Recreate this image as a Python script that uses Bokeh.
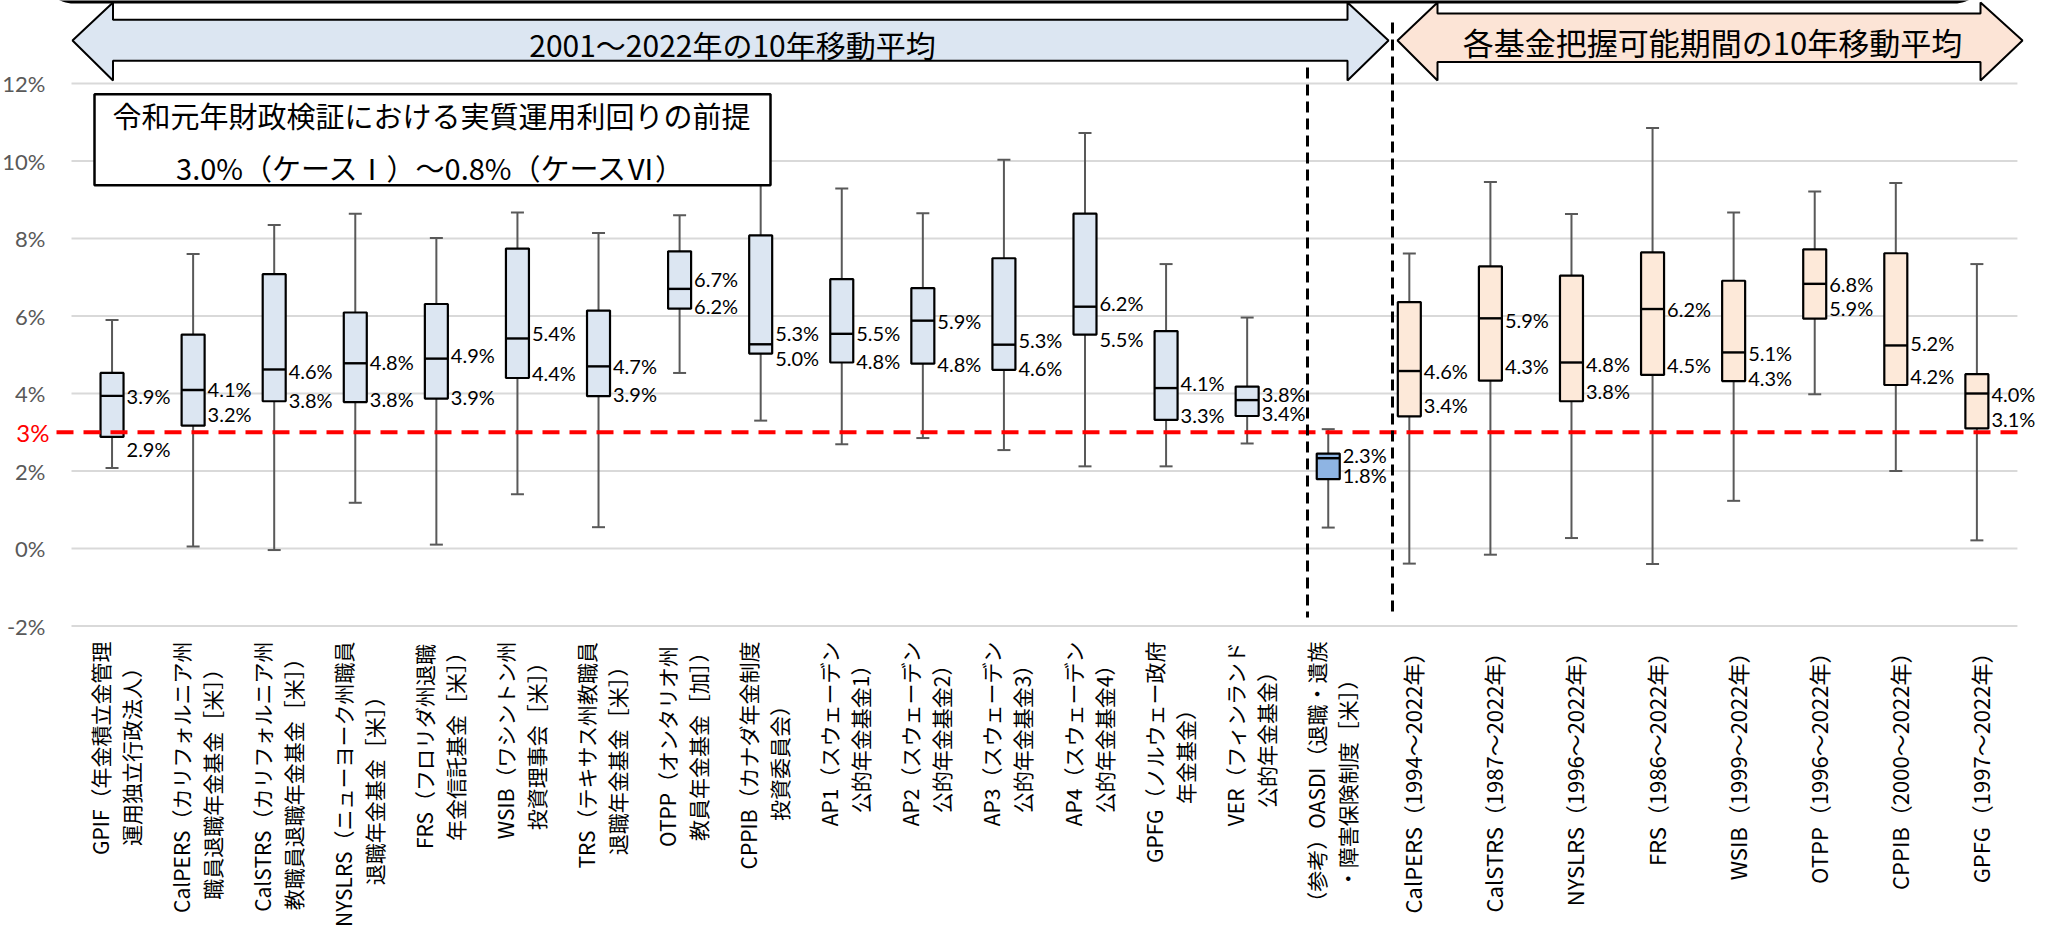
import numpy as np
from bokeh.plotting import figure
from bokeh.models import Range1d
from bokeh.core.properties import value
from bokeh.embed import file_html
from bokeh.resources import INLINE

# ---------------- data ----------------
labels = [
    "GPIF（年金積立金管理\n運用独立行政法人）",
    "CalPERS（カリフォルニア州\n職員退職年金基金［米］）",
    "CalSTRS（カリフォルニア州\n教職員退職年金基金［米］）",
    "NYSLRS（ニューヨーク州職員\n退職年金基金［米］）",
    "FRS（フロリダ州退職\n年金信託基金［米］）",
    "WSIB（ワシントン州\n投資理事会［米］）",
    "TRS（テキサス州教職員\n退職年金基金［米］）",
    "OTPP（オンタリオ州\n教員年金基金［加］）",
    "CPPIB（カナダ年金制度\n投資委員会）",
    "AP1（スウェーデン\n公的年金基金1）",
    "AP2（スウェーデン\n公的年金基金2）",
    "AP3（スウェーデン\n公的年金基金3）",
    "AP4（スウェーデン\n公的年金基金4）",
    "GPFG（ノルウェー政府\n年金基金）",
    "VER（フィンランド\n公的年金基金）",
    "（参考）OASDI（退職・遺族\n・障害保険制度［米］）",
    "CalPERS（1994～2022年）",
    "CalSTRS（1987～2022年）",
    "NYSLRS（1996～2022年）",
    "FRS（1986～2022年）",
    "WSIB（1999～2022年）",
    "OTPP（1996～2022年）",
    "CPPIB（2000～2022年）",
    "GPFG（1997～2022年）",
]
group = ["common"] * 15 + ["reference"] + ["own"] * 8

whisker_max = [5.90, 7.60, 8.35, 8.64, 8.01, 8.67, 8.14, 8.60, 9.43, 9.29, 8.65, 10.03,
               10.72, 7.34, 5.96, 3.08, 7.61, 9.46, 8.63, 10.85, 8.67, 9.21, 9.43, 7.34]
q3 = [4.53, 5.52, 7.08, 6.09, 6.31, 7.74, 6.14, 7.67, 8.08, 6.95, 6.72, 7.49,
      8.64, 5.61, 4.18, 2.45, 6.36, 7.28, 7.04, 7.64, 6.91, 7.72, 7.62, 4.50]
median = [3.94, 4.09, 4.62, 4.78, 4.90, 5.42, 4.70, 6.70, 5.27, 5.54, 5.88, 5.26,
          6.24, 4.14, 3.83, 2.33, 4.58, 5.94, 4.80, 6.18, 5.06, 6.83, 5.24, 4.00]
q1 = [2.88, 3.17, 3.80, 3.78, 3.87, 4.40, 3.93, 6.19, 5.03, 4.80, 4.77, 4.61,
      5.52, 3.32, 3.42, 1.79, 3.41, 4.33, 3.80, 4.48, 4.32, 5.93, 4.22, 3.10]
whisker_min = [2.08, 0.05, -0.04, 1.18, 0.10, 1.40, 0.55, 4.53, 3.30, 2.69, 2.85, 2.54,
               2.12, 2.12, 2.71, 0.54, -0.39, -0.16, 0.27, -0.40, 1.23, 3.98, 2.00, 0.21]

y_ticks = [-2, 0, 2, 4, 6, 8, 10, 12]
y_tick_labels = [f"{t}%" for t in y_ticks]
threshold = 3.0
threshold_label = "3%"
title_common = "2001～2022年の10年移動平均"
title_own = "各基金把握可能期間の10年移動平均"
note_lines = ["令和元年財政検証における実質運用利回りの前提", "3.0%（ケースⅠ）～0.8%（ケースⅥ）"]

# ---------------- style ----------------
fill_by_group = {"common": "#DCE6F2", "reference": "#8EB4E3", "own": "#FDE9D9"}
label_size_by_group = {"common": 21, "reference": 21, "own": 22}
# small pixel nudges for data label placement (positive = down)
med_nudge = [0, -1, 2, -1, -4, -5, 0, -10, -11, -1, 0, -5, -4, -5, -6, -3, 0, 2, 1, 0, 1, 0, -2, 0]
q1_nudge = [12, -12, -1, -3, -2, -5, -2, -3, 4, -2, 0, -2, 4, -5, -3, -4, -11, -15, -10, -10, -3, -11, -9, -9]

W, H = 2037, 926
PAD = 8
X0, CAT = 79.0, 81.08     # pixel of category axis start, pixels per category
Y0, PCT = 556.0, 38.75    # pixel of 0 %, pixels per percentage point


def X(px):
    return (px - X0) / CAT


def Y(py):
    return (Y0 - py) / PCT


p = figure(width=W, height=H, output_backend="svg", toolbar_location=None,
           x_range=Range1d(X(PAD), X(PAD + W)), y_range=Range1d(Y(PAD + H), Y(PAD)),
           x_axis_type=None, y_axis_type=None, min_border=0, outline_line_color=None,
           background_fill_color="white", border_fill_color="white")

n = len(labels)
cats = np.arange(n) + 0.5
bw = 11.5 / CAT
cap = 6.5 / CAT

# gridlines
p.segment(x0=[0] * len(y_ticks), y0=y_ticks, x1=[n] * len(y_ticks), y1=y_ticks,
          line_color="#D9D9D9", line_width=2)

# whiskers
wc = "#595959"
p.segment(x0=cats, y0=q3, x1=cats, y1=whisker_max, line_color=wc, line_width=2)
p.segment(x0=cats, y0=q1, x1=cats, y1=whisker_min, line_color=wc, line_width=2)
p.segment(x0=cats - cap, y0=whisker_max, x1=cats + cap, y1=whisker_max, line_color=wc, line_width=2)
p.segment(x0=cats - cap, y0=whisker_min, x1=cats + cap, y1=whisker_min, line_color=wc, line_width=2)

# boxes
fills = [fill_by_group[g] for g in group]
p.quad(left=cats - bw, right=cats + bw, bottom=q1, top=q3, fill_color=fills,
       line_color="black", line_width=2.2)
p.segment(x0=cats - bw, y0=median, x1=cats + bw, y1=median, line_color="black", line_width=2.4)

# data labels (median and lower quartile)
lab_x = cats + bw + 3 / CAT
med_y = [m - d / PCT for m, d in zip(median, med_nudge)]
q1_y = [v - d / PCT for v, d in zip(q1, q1_nudge)]
p.text(x=lab_x, y=med_y, text=[f"{v:.1f}%" for v in median], text_font=value("Lato"),
       text_font_size="20px", text_baseline="middle", text_align="left", text_color="black")
p.text(x=lab_x, y=q1_y, text=[f"{v:.1f}%" for v in q1], text_font=value("Lato"),
       text_font_size="20px", text_baseline="middle", text_align="left", text_color="black")

# threshold line
p.segment(x0=[X(64)], y0=[threshold], x1=[X(2028)], y1=[threshold], line_color="#FF0000",
          line_width=4, line_dash="17 10")

# vertical separators
p.segment(x0=[X(1315), X(1400)], y0=[Y(75), Y(30)], x1=[X(1315), X(1400)], y1=[Y(625), Y(625)],
          line_color="black", line_width=3, line_dash="11 6")

# note box
p.quad(left=[X(102)], right=[X(778)], top=[Y(101.7)], bottom=[Y(192.7)], fill_color="white",
       line_color="black", line_width=2.5)
p.text(x=[X(439), X(439)], y=[Y(122), Y(174)], text=note_lines,
       text_font=value("Noto Sans CJK JP"), text_font_size="29px", text_align="center",
       text_baseline="middle", text_color="black")

# top frame line (rounded box cut by the top edge)
t = np.linspace(0, np.pi / 2, 20)
r = 30
lx = list(81 - r * np.cos(t)) + list(1962 + r * np.cos(t[::-1]))
ly = list(-21 + r * np.sin(t)) + list(-21 + r * np.sin(t[::-1]))
p.line(x=[X(v) for v in lx], y=[Y(v) for v in ly], line_color="black", line_width=4)

# arrows
blue_x = [80, 120.5, 120.5, 1355, 1355, 1396, 1355, 1355, 120.5, 120.5]
blue_y = [48, 10, 27.3, 27.3, 10, 48, 88, 68.3, 68.3, 88]
p.patch(x=[X(v) for v in blue_x], y=[Y(v) for v in blue_y], fill_color="#DCE6F2",
        line_color="black", line_width=2)
or_x = [1405, 1445, 1445, 1988, 1988, 2030, 1988, 1988, 1445, 1445]
or_y = [48, 10, 21, 21, 10, 48, 88, 69.5, 69.5, 88]
p.patch(x=[X(v) for v in or_x], y=[Y(v) for v in or_y], fill_color="#FCE4D6",
        line_color="black", line_width=2)
p.text(x=[X(740)], y=[Y(51)], text=[title_common], text_font=value("Noto Sans CJK JP"),
       text_font_size="30px", text_align="center", text_baseline="middle", text_color="black")
p.text(x=[X(1720)], y=[Y(49)], text=[title_own], text_font=value("Noto Sans CJK JP"),
       text_font_size="31px", text_align="center", text_baseline="middle", text_color="black")

# y tick labels
p.text(x=[X(53)] * len(y_ticks), y=y_ticks, text=y_tick_labels, text_font=value("Lato"),
       text_font_size="22px", text_align="right", text_baseline="middle", text_color="#595959")
p.text(x=[X(57)], y=[threshold], text=[threshold_label], text_font=value("Lato"),
       text_font_size="24px", text_align="right", text_baseline="middle", text_color="#FF0000")

# category labels (rotated, top aligned, lines centred in their block)
LINE = 31


def est_width(s, fs):
    w = 0.0
    for ch in s:
        o = ord(ch)
        if o >= 0x2E80 or 0x2100 <= o <= 0x22FF or ch in "・":
            w += 1.0
        elif ch.isdigit():
            w += 0.555
        elif ch.isupper():
            w += 0.62
        else:
            w += 0.5
    return w * fs


TOP = 649
rx, ry, rt, ra, rs = [], [], [], [], []
for i, lab in enumerate(labels):
    fs = label_size_by_group[group[i]]
    lines = lab.split("\n")
    k = len(lines)
    widths = [est_width(s, fs) for s in lines]
    lmax = max(widths)
    imax = widths.index(lmax)
    for j, s in enumerate(lines):
        dx = (j - (k - 1) / 2) * LINE / CAT
        rx.append(cats[i] + dx + 3 / CAT)
        rt.append(s)
        rs.append(f"{fs}px")
        if j == imax:
            ry.append(Y(TOP))
            ra.append("right")
        else:
            ry.append(Y(TOP + lmax / 2))
            ra.append("center")
p.text(x=rx, y=ry, text=rt, angle=np.pi / 2, text_align=ra, text_baseline="middle",
       text_font=value("Noto Sans CJK JP"), text_font_size=rs, text_color="black")

open("out.html", "w", encoding="utf-8").write(file_html(p, INLINE, "chart"))
